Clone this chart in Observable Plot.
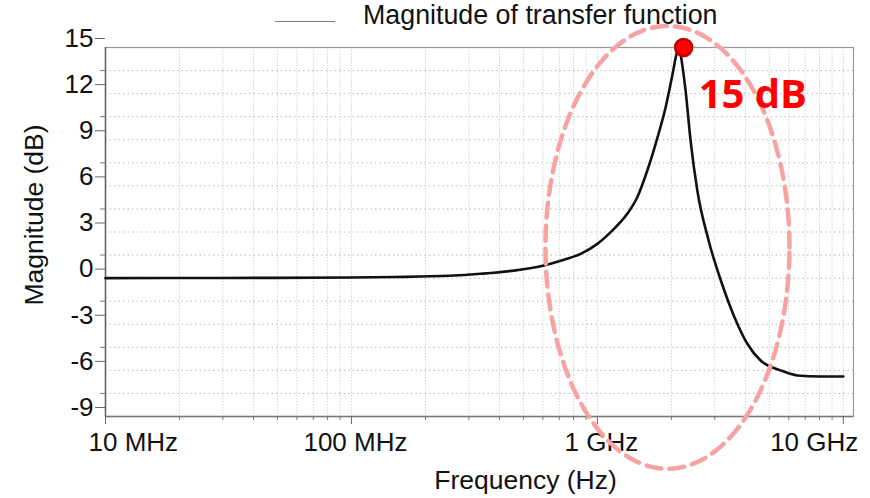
<!DOCTYPE html>
<html><head><meta charset="utf-8">
<script src="https://cdn.jsdelivr.net/npm/d3@7"></script>
<script src="https://cdn.jsdelivr.net/npm/@observablehq/plot@0.6"></script>
<style>
body{margin:0;background:#fff;font-family:"Liberation Sans",Arial,sans-serif}
#wrap{position:relative;width:870px;height:498px;overflow:hidden}
#legend{position:absolute;left:275px;top:0px;display:flex;align-items:center;font-size:26.8px;color:#111;white-space:nowrap}
#legend .sw{width:60px;height:0;border-top:1.5px solid #777;margin-right:28px;margin-top:12px}
#chart{position:absolute;left:0;top:0}
</style></head><body>
<div id="wrap"><div id="chart"></div><div id="legend"><span class="sw"></span><span id="legtext"></span></div></div>
<script>
// Frequency response
const freqHz = [1e7, 3e7, 1e8, 1.5e8, 2.5e8, 3.35e8, 4.58e8, 6.06e8, 7.31e8, 8.55e8, 1.0e9, 1.168e9, 1.323e9, 1.453e9, 1.596e9, 1.774e9, 1.894e9, 2.023e9, 2.1e9, 2.16e9, 2.18e9, 2.284e9, 2.393e9, 2.549e9, 2.833e9, 3.2e9, 3.61e9, 4.07e9, 4.61e9, 5.56e9, 6.5e9, 8.08e9, 1e10];
const magDb  = [0, 0.01, 0.04, 0.07, 0.15, 0.28, 0.49, 0.82, 1.19, 1.58, 2.23, 3.2, 4.18, 5.26, 7.0, 9.4, 11.1, 13.3, 14.6, 15.0, 14.6, 12.2, 8.94, 5.7, 2.45, -0.3, -2.54, -4.27, -5.36, -6.0, -6.33, -6.4, -6.4];

const yTicks = [-9, -6, -3, 0, 3, 6, 9, 12, 15];
const yMinorTicks = [-7.5, -4.5, -1.5, 1.5, 4.5, 7.5, 10.5, 13.5];
const xTickValues = [1e7, 1e8, 1e9, 1e10];
const xTickLabels = ["10 MHz", "100 MHz", "1 GHz", "10 GHz"];
const xMinorMultipliers = [2, 3, 4, 5, 6, 7, 8, 9];
const legendLabel = "Magnitude of transfer function";
const xLabel = "Frequency (Hz)";
const yLabel = "Magnitude (dB)";
const peakFreq = [2.16e9];
const peakDb = [15];
const peakLabel = ["15 dB"];
// highlight ellipse (annotation) in data space: center log10(f), center dB, radius decades, radius dB
const ellipseCenterLogF = [9.285];
const ellipseCenterDb = [2.0];
const ellipseRadiusDecades = [0.496];
const ellipseRadiusDb = [14.4];

document.getElementById("legtext").textContent = legendLabel;

const curve = freqHz.map((f, i) => ({f, db: magDb[i]}));
const peak = peakFreq.map((f, i) => ({f, db: peakDb[i], label: peakLabel[i]}));
const minorX = xTickValues.slice(0, -1).flatMap(d => xMinorMultipliers.map(k => d * k));
const gridX = minorX.concat(xTickValues);
const gridY = yTicks.concat(yMinorTicks);
const ellipsePts = d3.range(0, 361, 2).map(a => {
  const t = a * Math.PI / 180;
  return {f: Math.pow(10, ellipseCenterLogF[0] + ellipseRadiusDecades[0] * Math.cos(t)),
          db: ellipseCenterDb[0] + ellipseRadiusDb[0] * Math.sin(t)};
});
const labels = xTickValues.map((v, i) => ({v, t: xTickLabels[i]}));
const noText = () => "";

const chart = Plot.plot({
  width: 870, height: 498,
  marginLeft: 105, marginTop: 47, marginRight: 17, marginBottom: 82,
  style: {fontFamily: "'Liberation Sans', Arial, sans-serif", fontSize: "26px", background: "transparent", color: "#111", overflow: "visible"},
  x: {type: "log", domain: [1e7, 1.1e10]},
  y: {domain: [-9, 15]},
  marks: [
    Plot.ruleX(gridX, {stroke: "#d4d4d4", strokeWidth: 1, strokeDasharray: "1.5,1.5"}),
    Plot.ruleY(gridY, {stroke: "#b8b8b8", strokeWidth: 1, strokeDasharray: "1.5,3"}),
    Plot.frame({stroke: "#999", strokeWidth: 1.2}),
    Plot.ruleX([1e7], {stroke: "#666", strokeWidth: 1.5}),
    Plot.ruleY([-9], {stroke: "#777", strokeWidth: 1.5}),
    Plot.axisY({ticks: yTicks, tickSize: 10, tickPadding: 2, label: null, dy: -9, stroke: "#666", fill: "#111", fontSize: 26, tickFormat: d => String(d)}),
    Plot.axisY({ticks: yMinorTicks, tickSize: 5, tickFormat: noText, label: null, stroke: "#777"}),
    Plot.axisX({ticks: xTickValues, tickSize: 8, tickFormat: noText, label: null, stroke: "#666"}),
    Plot.axisX({ticks: minorX, tickSize: 4, tickFormat: noText, label: null, stroke: "#777"}),
    Plot.text(labels.slice(0, 1), {x: "v", text: "t", frameAnchor: "bottom", lineAnchor: "top", dy: 16, dx: -17, textAnchor: "start", fontSize: 26}),
    Plot.text(labels.slice(1, 3), {x: "v", text: "t", frameAnchor: "bottom", lineAnchor: "top", dy: 16, dx: 4, textAnchor: "middle", fontSize: 26}),
    Plot.text(labels.slice(3), {x: "v", text: "t", frameAnchor: "bottom", lineAnchor: "top", dy: 16, dx: 15, textAnchor: "end", fontSize: 26}),
    Plot.text([xLabel], {frameAnchor: "bottom", textAnchor: "middle", lineAnchor: "top", dx: 46, dy: 54, fontSize: 26.5}),
    Plot.text([yLabel], {frameAnchor: "left", textAnchor: "middle", rotate: -90, dx: -71, dy: -17, fontSize: 26.5}),
    Plot.line(curve, {x: "f", y: "db", stroke: "#111", strokeWidth: 2.6, curve: "monotone-x"}),
    Plot.line(ellipsePts, {x: "f", y: "db", stroke: "#f7a3a3", strokeWidth: 4.5, strokeDasharray: "15,8"}),
    Plot.dot(peak, {x: "f", y: "db", r: 8.5, dx: 4, fill: "#ff0000", stroke: "#c00000", strokeWidth: 2.5}),
    Plot.text(peak, {x: "f", y: "db", text: "label", dx: 19, dy: 48, textAnchor: "start", fill: "#ff0000", fontWeight: "bold", fontSize: 40, fontFamily: "'Open Sans', Lato, sans-serif"})
  ]
});
document.getElementById("chart").appendChild(chart);
</script>
</body></html>
